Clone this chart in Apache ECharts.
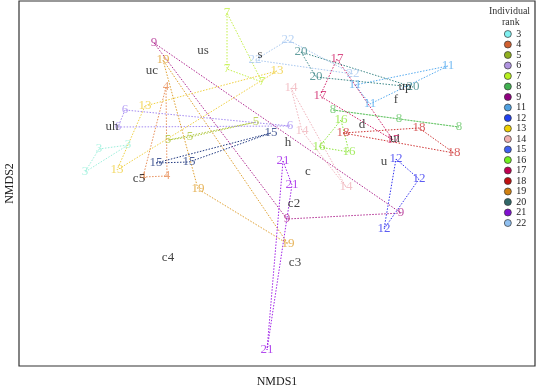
<!DOCTYPE html>
<html><head><meta charset="utf-8">
<script src="https://cdn.jsdelivr.net/npm/echarts@6/dist/echarts.min.js"></script>
<style>html,body{margin:0;padding:0;background:#fff}#c{width:536px;height:388px}</style>
</head><body><div id="c"></div>
<script>
// Individual ranks (groups)
const ranks = ['3','4','5','6','7','8','9','11','12','13','14','15','16','17','18','19','20','21','22'];
// NMDS scores of each individual's points (NMDS1, NMDS2)
const r3  = [[-1.78,0.345],[-1.49,0.385],[-1.92,0.115]];
const r4  = [[-1.11,0.965],[-1.34,0.065],[-1.10,0.075]];
const r5  = [[-1.09,0.435],[-0.87,0.465],[-0.21,0.615]];
const r6  = [[-1.52,0.735],[-1.59,0.565],[0.13,0.575]];
const r7  = [[-0.50,1.705],[-0.50,1.145],[-0.15,1.015]];
const r8  = [[0.56,0.735],[1.22,0.645],[1.82,0.565]];
const r9  = [[-1.23,1.405],[0.10,-0.355],[1.24,-0.295]];
const r11 = [[0.78,0.985],[0.93,0.795],[1.71,1.175]];
const r12 = [[1.19,0.245],[1.42,0.045],[1.07,-0.455]];
const r13 = [[-1.32,0.775],[-1.60,0.135],[0.00,1.125]];
const r14 = [[0.14,0.955],[0.25,0.525],[0.69,-0.035]];
const r15 = [[-1.21,0.205],[-0.88,0.215],[-0.06,0.505]];
const r16 = [[0.64,0.635],[0.42,0.365],[0.72,0.315]];
const r17 = [[0.60,1.245],[0.43,0.875],[1.16,0.435]];
const r18 = [[0.66,0.505],[1.42,0.555],[1.77,0.305]];
const r19 = [[-1.14,1.235],[-0.79,-0.055],[0.11,-0.605]];
const r20 = [[0.24,1.315],[0.39,1.065],[1.36,0.965]];
const r21 = [[0.06,0.225],[0.15,-0.015],[-0.10,-1.665]];
const r22 = [[0.11,1.435],[-0.22,1.235],[0.76,1.095]];
const groups = [r3,r4,r5,r6,r7,r8,r9,r11,r12,r13,r14,r15,r16,r17,r18,r19,r20,r21,r22];
// Site labels and scores
const siteNames = ['us','uc','s','uh','up','f','d','ui','u','h','c','c5','c2','c3','c4'];
const siteX = [-0.74,-1.25,-0.17,-1.65,1.28,1.19,0.85,1.18,1.07,0.11,0.31,-1.38,0.17,0.18,-1.09];
const siteY = [1.325,1.125,1.285,0.565,0.965,0.835,0.585,0.445,0.215,0.405,0.115,0.045,-0.205,-0.795,-0.745];

// styles
const plotColors = ['#9cf0dc','#e8905a','#b0c840','#a68cf2','#c4f048','#6cc86c','#b02890','#58acf0','#3434f0','#f0d040','#f0b4bc','#203880','#8ee63c','#d02068','#d03838','#e0a030','#3e8888','#a020e8','#a8c8f0'];
const legendColors = ['#80f0f0','#d06030','#90b020','#b094e0','#b8f020','#40b050','#900080','#50a0e0','#2040f0','#f0d000','#f0b0b0','#4060f0','#70f020','#c00050','#c01010','#d08010','#306868','#8010d0','#90c0f0'];
const FONT = '"Liberation Serif", "Times New Roman", serif';

const series = [];
ranks.forEach((r, i) => {
  const pts = groups[i];
  series.push({
    name: r, type: 'line', silent: true, animation: false,
    data: pts.concat([pts[0]]), symbol: 'none', z: 2,
    itemStyle: {color: legendColors[i]},
    lineStyle: {color: plotColors[i], width: 1, type: [1.5, 1.5]}
  });
});
ranks.forEach((r, i) => {
  series.push({
    name: r, type: 'scatter', silent: true, animation: false,
    data: groups[i], symbolSize: 1, z: 3,
    itemStyle: {color: 'rgba(0,0,0,0)'},
    label: {show: true, position: 'inside', formatter: r, color: plotColors[i], fontFamily: FONT, fontSize: 13}
  });
});
series.push({
  name: 'sites', type: 'scatter', silent: true, animation: false, z: 4,
  data: siteNames.map((n, i) => ({name: n, value: [siteX[i], siteY[i]]})),
  symbolSize: 1, itemStyle: {color: 'rgba(0,0,0,0)'},
  label: {show: true, position: 'inside', formatter: p => p.name, color: '#111', fontFamily: FONT, fontSize: 13}
});

const chart = echarts.init(document.getElementById('c'), null, {renderer: 'canvas'});
chart.setOption({
  backgroundColor: '#fff',
  animation: false,
  grid: {left: 19, top: 1, right: 1, bottom: 22, show: true, borderColor: '#333', borderWidth: 1.2,
    backgroundColor: 'transparent', containLabel: false, outerBoundsMode: 'none'},
  xAxis: {type: 'value', min: -2.58, max: 2.58, name: 'NMDS1', nameLocation: 'middle', nameGap: 10,
    nameTextStyle: {fontFamily: FONT, fontSize: 12, color: '#222'},
    axisLine: {show: false}, axisTick: {show: false}, axisLabel: {show: false}, splitLine: {show: false}},
  yAxis: {type: 'value', min: -1.825, max: 1.825, name: 'NMDS2', nameLocation: 'middle', nameGap: 3,
    nameTextStyle: {fontFamily: FONT, fontSize: 12, color: '#222'},
    axisLine: {show: false}, axisTick: {show: false}, axisLabel: {show: false}, splitLine: {show: false}},
  graphic: [
    {type: 'text', left: 489, top: 6, style: {text: 'Individual', font: '10px ' + FONT, fill: '#333'}},
    {type: 'text', left: 502, top: 17, style: {text: 'rank', font: '10px ' + FONT, fill: '#333'}}
  ],
  legend: {
    orient: 'vertical', left: 504, top: 29, itemWidth: 7, itemHeight: 7, itemGap: 0.5, icon: 'circle',
    selectedMode: false, padding: 0,
    textStyle: {fontFamily: FONT, fontSize: 10, color: '#222', lineHeight: 10},
    data: ranks.map((r, i) => ({name: r, itemStyle: {color: legendColors[i], borderColor: '#333', borderWidth: 0.7}}))
  },
  series: series
});
</script></body></html>
